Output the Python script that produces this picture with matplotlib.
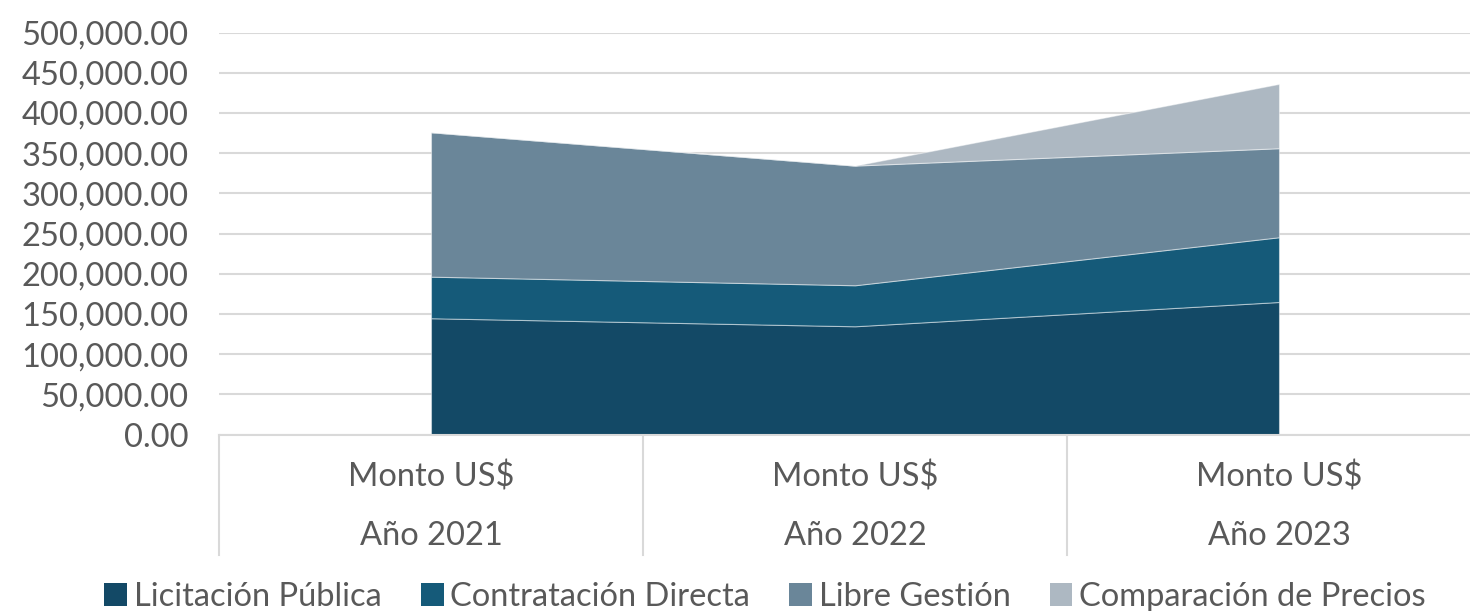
import matplotlib
matplotlib.use("Agg")
import matplotlib.pyplot as plt
from matplotlib.patches import Patch
from matplotlib.ticker import FuncFormatter
import matplotlib.transforms as mtransforms

years = ["Año 2021", "Año 2022", "Año 2023"]
sub_label = "Monto US$"
series_names = ["Licitación Pública", "Contratación Directa", "Libre Gestión", "Comparación de Precios"]
licitacion = [144700, 134700, 164900]
contratacion = [51700, 51000, 80500]
libre_gestion = [179600, 148800, 110700]
comparacion = [0, 0, 80000]
colors = ["#134966", "#155a79", "#6a8699", "#adb8c2"]

plt.rcParams['font.family'] = ['Lato', 'DejaVu Sans']
text_color = "#595959"
grid_color = "#d9d9d9"
fs = 23.5

W, H = 1470, 611
fig = plt.figure(figsize=(W / 100, H / 100), dpi=100)
left, right = 219 / W, 1491 / W
bottom, top = (H - 434.6) / H, (H - 32.5) / H
ax = fig.add_axes([left, bottom, right - left, top - bottom])

x = list(range(len(years)))
ax.stackplot(x, licitacion, contratacion, libre_gestion, comparacion,
             colors=colors, edgecolor=(1, 1, 1, 0.45), linewidth=0.8, zorder=3)

ax.set_xlim(-0.5, len(years) - 0.5)
ax.set_ylim(0, 500000)
ax.set_yticks(range(0, 500001, 50000))
ax.yaxis.set_major_formatter(FuncFormatter(lambda v, p: f"{v:,.2f}"))
ax.tick_params(axis='y', length=0, pad=22, labelsize=fs, labelcolor=text_color)
ax.set_xticks([])
ax.grid(axis='y', color=grid_color, linewidth=1.5, zorder=0)
ax.set_axisbelow(True)
for s in ["top", "right", "left"]:
    ax.spines[s].set_visible(False)
ax.spines["bottom"].set_color(grid_color)
ax.spines["bottom"].set_linewidth(1.5)
ax.spines["bottom"].set_zorder(4)

trans = mtransforms.blended_transform_factory(ax.transData, ax.transAxes)
for i in range(len(years) + 1):
    ax.plot([i - 0.5, i - 0.5], [0, -0.3], transform=trans, color=grid_color,
            linewidth=1.5, clip_on=False)
for i, yl in enumerate(years):
    ax.text(i, -0.105, sub_label, transform=trans, ha='center', va='center',
            fontsize=fs, color=text_color)
    ax.text(i, -0.253, yl, transform=trans, ha='center', va='center',
            fontsize=fs, color=text_color)

handles = [Patch(facecolor=c, edgecolor='none') for c in colors]
fig.legend(handles, series_names, loc='center', bbox_to_anchor=(765 / W, (H - 597) / H),
           ncol=4, frameon=False, prop={'size': fs}, labelcolor=text_color,
           handlelength=0.7, handleheight=0.7, handletextpad=0.2, columnspacing=1.2)

fig.savefig("out.png", dpi=100)
